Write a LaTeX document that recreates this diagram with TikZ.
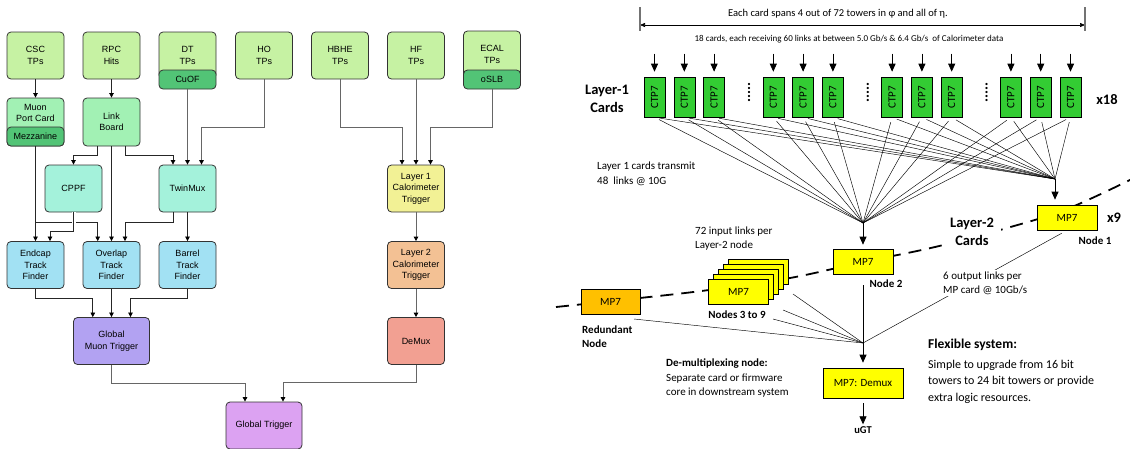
\documentclass[tikz,border=0pt]{standalone}
\usepackage{fontspec}
\setmainfont{Liberation Sans}
\newfontfamily\carlito{Carlito}
\usetikzlibrary{arrows.meta}

\definecolor{srcgreen}{HTML}{C6F2A3}
\definecolor{mintgreen}{HTML}{A2F1B4}
\definecolor{bandgreen}{HTML}{52C476}
\definecolor{aqua}{HTML}{A4F2DB}
\definecolor{skyblue}{HTML}{A2E1F3}
\definecolor{lavender}{HTML}{B2A2F2}
\definecolor{paleyellow}{HTML}{F2F195}
\definecolor{peach}{HTML}{F3C194}
\definecolor{salmon}{HTML}{F2A092}
\definecolor{lilac}{HTML}{DCA2F2}
\definecolor{boxline}{HTML}{333333}
\definecolor{ctpgreen}{HTML}{33CC33}
\definecolor{mpyellow}{HTML}{FFFF00}
\definecolor{mporange}{HTML}{FFC000}

\begin{document}
\begin{tikzpicture}[
x=1pt, y=-1pt,
font=\fontsize{9}{11.5}\selectfont,
block/.style={
rectangle,
rounded corners=4pt,
draw=boxline,
line width=0.8pt,
align=center,
minimum width=57pt,
minimum height=47pt,
inner sep=1pt
},
band/.style={block, fill=bandgreen, minimum height=19pt},
wire/.style={draw=black!85, line width=0.7pt, -{Triangle[length=4.5pt,width=4.5pt,color=black]}},
calowire/.style={wire, draw=black!60, line width=1pt},
ctp/.style={rectangle, draw=black, line width=0.6pt, fill=ctpgreen,
  minimum width=21pt, minimum height=40pt, inner sep=0pt,
  font=\carlito\fontsize{11}{11}\selectfont},
mp/.style={rectangle, draw=black, line width=0.6pt, fill=mpyellow,
  minimum width=60pt, minimum height=25pt, inner sep=0pt,
  font=\carlito\fontsize{11}{11}\selectfont},
link/.style={draw=black, line width=0.45pt},
feed/.style={draw=black, line width=0.8pt, -{Triangle[length=8pt,width=7pt]}},
note/.style={font=\carlito\fontsize{11}{14}\selectfont, align=left, inner sep=0pt},
tag/.style={font=\carlito\bfseries\fontsize{11}{14}\selectfont, align=left, inner sep=0pt},
heading/.style={font=\carlito\bfseries\fontsize{14.5}{18.5}\selectfont, align=center, inner sep=1pt}
]
\useasboundingbox (0,0) rectangle (1130,448);

% ---------------- trigger chain (left) ----------------
\node[block, fill=srcgreen] (csc) at (35.5,55.5) {CSC\\TPs};
\node[block, fill=srcgreen] (rpc) at (111.5,55.5) {RPC\\Hits};
\node[block, fill=srcgreen] (dt) at (187.5,55.5) {DT\\TPs};
\node[band] (cuof) at (187.5,79.5) {CuOF};
\node[block, fill=srcgreen] (ho) at (264,55.5) {HO\\TPs};
\node[block, fill=srcgreen] (hbhe) at (340,55.5) {HBHE\\TPs};
\node[block, fill=srcgreen] (hf) at (416,55.5) {HF\\TPs};
\node[block, fill=srcgreen] (ecal) at (492,54.5) {ECAL\\TPs};
\node[band] (oslb) at (492,79.5) {oSLB};

\node[block, fill=mintgreen, minimum height=48pt] (mpc) at (35.5,122) {};
\node[band] (mezz) at (35.5,136.5) {Mezzanine};
\node[align=center, inner sep=0pt] (mpclabel) at (35.5,113) {Muon\\Port Card};
\node[block, fill=mintgreen, minimum height=48pt] (lb) at (111.5,122) {Link\\Board};

\node[block, fill=aqua] (cppf) at (73.5,188.5) {CPPF};
\node[block, fill=aqua] (twinmux) at (187.5,188.5) {TwinMux};
\node[block, fill=paleyellow] (l1) at (416,188.5) {Layer 1\\Calorimeter\\Trigger};

\node[block, fill=skyblue] (endcap) at (35.5,265) {Endcap\\Track\\Finder};
\node[block, fill=skyblue] (overlap) at (111.5,265) {Overlap\\Track\\Finder};
\node[block, fill=skyblue] (barrel) at (187.5,265) {Barrel\\Track\\Finder};
\node[block, fill=peach] (l2) at (416,265) {Layer 2\\Calorimeter\\Trigger};

\node[block, fill=lavender, minimum width=76pt] (gmt) at (111.5,341) {Global\\Muon Trigger};
\node[block, fill=salmon] (demux) at (416,341) {DeMux};

\node[block, fill=lilac, minimum width=76pt] (gt) at (264,425.5) {Global Trigger};

% muon side
\draw[wire] (csc.south) -- (mpc.north);
\draw[wire] (rpc.south) -- (lb.north);
\draw[wire] ([xshift=-14pt]lb.south) -- ++(0,9) -| (cppf.north);
\draw[wire] ([xshift=13.5pt]lb.south) -- ++(0,9) -| ([xshift=-14.5pt]twinmux.north);
\draw[wire] (lb.south) -- (overlap.north);
\draw[calowire] (cuof.south) -- (twinmux.north);
\draw[calowire] (ho.south) -- ++(0,48) -| ([xshift=14pt]twinmux.north);
\draw[wire] (mezz.south) -- (endcap.north);
\draw[wire] (mezz.south) -- ++(0,76) -| ([xshift=-13.8pt]overlap.north);
% jumps over the branch above
\draw[wire, preaction={draw=white, line width=4pt, -}] (cppf.south) -- ++(0,19) -| ([xshift=14.5pt]endcap.north);
\draw[wire] ([xshift=-14.5pt]twinmux.south) -- ++(0,10) -| ([xshift=13.5pt]overlap.north);
\draw[wire] (twinmux.south) -- (barrel.north);
\draw[wire] (endcap.south) -- ++(0,9) -| ([xshift=-18.7pt]gmt.north);
\draw[wire] (overlap.south) -- (gmt.north);
\draw[wire] (barrel.south) -- ++(0,9) -| ([xshift=19pt]gmt.north);

% calorimeter side
\draw[calowire] (hbhe.south) -- ++(0,48) -| ([xshift=-14pt]l1.north);
\draw[calowire] (hf.south) -- (l1.north);
\draw[calowire] (oslb.south) -- ++(0,38) -| ([xshift=14.5pt]l1.north);
\draw[calowire] (l1.south) -- (l2.north);
\draw[calowire] (l2.south) -- (demux.north);

% into the global trigger
\draw[calowire] (gmt.south) -- ++(0,19) -| ([xshift=-19pt]gt.north);
\draw[calowire] (demux.south) -- ++(0,18) -| ([xshift=19pt]gt.north);

% ---------------- calorimeter trigger layout (right) ----------------
% span of one card
\coordinate (spanL) at (640,25);
\coordinate (spanR) at (1085,25);
\draw[line width=0.6pt, {Triangle[length=5pt,width=4pt]}-{Triangle[length=5pt,width=4pt]}] (spanL) -- (spanR);
\draw[line width=1.2pt, black!55] ([yshift=18pt]spanL) -- ([yshift=-6pt]spanL);
\draw[line width=1.2pt, black!55] ([yshift=18pt]spanR) -- ([yshift=-6pt]spanR);
\node[note, font=\carlito\fontsize{10.5}{12}\selectfont] (spantext) at (838,14)
{Each card spans 4 out of 72 towers in φ and all of η.};
\node[note, font=\carlito\fontsize{9}{11}\selectfont] (linkstext) at (849,39)
{18 cards, each receiving 60 links at between 5.0 Gb/s \& 6.4 Gb/s\ \ of Calorimeter data};

% layer boundary, drawn under the cards
\draw[line width=1.8pt, dash pattern=on 13pt off 8pt]
  plot[smooth, tension=0.6] coordinates {(556,307) (640,298) (709,290) (790,278) (863,262) (935,247) (1007,228) (1067,209) (1132,179)};

% layer-1 cards
\foreach \g in {0,...,3}
  \foreach \i in {0,1,2} {
    \pgfmathtruncatemacro{\n}{3*\g+\i+1}
    \node[ctp] (c\n) at (654.5+118.8*\g+29.8*\i, 97) {\rotatebox{90}{CTP7}};
  }
\foreach \g [count=\k] in {0,1,2}
  \node[inner sep=0pt, font=\carlito\bfseries\fontsize{15}{15}\selectfont] (dots\k) at (749+118.8*\g, 92) {\rotatebox{90}{.....}};

\foreach \n in {1,...,12}
  \draw[feed, shorten >=5pt] ([yshift=23pt]c\n.north) -- (c\n.north);

% time-multiplexed fan-out
\coordinate (fanA) at (863,223);
\coordinate (fanB) at (1055,179);
\coordinate (fanC) at (863,343);
\foreach \n in {1,...,12} {
  \draw[link, shorten <=5pt] (c\n.south) -- (fanA);
  \draw[link, shorten <=5pt] (c\n.south) -- (fanB);
}

% layer-2 cards
\node[mp] (node1) at (1067,217.5) {MP7};
\node[mp] (node2) at (863,261.5) {MP7};
\foreach \k in {4,3,2,1}
  \node[mp] (stack\k) at (738.5+5*\k, 291.5-5*\k) {};
\node[mp] (nodes39) at (738.5,291.5) {MP7};
\node[mp, fill=mporange, minimum width=59pt] (spare) at (610.5,301.5) {MP7};
\node[mp, minimum width=80pt, minimum height=30pt] (demuxcard) at (863,383) {MP7: Demux};

\draw[feed, shorten >=4pt] (fanA) -- (fanA |- node2.north);
\draw[feed, shorten >=5pt] (fanB) -- (fanB |- node1.north);

% outputs to the demux
\coordinate (st1) at (793,294);
\coordinate (st2) at (783,310);
\coordinate (st3) at (773,319);
\coordinate (sp) at (634,319);
\draw[link, shorten <=11pt] (node2.south) -- (fanC);
\foreach \p in {st1,st2,st3,sp}
  \draw[link] (\p) -- (fanC);
\draw[link, shorten <=6pt] (node1.south) -- (fanC);
\draw[feed, shorten >=5pt] (fanC) -- (fanC |- demuxcard.north);
\node[tag, font=\carlito\bfseries\fontsize{10.5}{12}\selectfont] (ugt) at (863,430) {uGT};
\draw[feed, shorten <=5pt, shorten >=2pt] (demuxcard.south) -- (ugt.north);

% labels
\node[note, fill=white, inner sep=2pt, anchor=west] (outlinks) at (941,283) {6 output links per\\MP card @ 10Gb/s};
\node[heading, fill=white, inner xsep=7pt] (l2cards) at (972,232) {Layer-2\\Cards};
\node[heading] (l1cards) at (607,99) {Layer-1\\Cards};
\node[heading] (x18) at (1107,100) {x18};
\node[heading] (x9) at (1114,218) {x9};
\node[tag] (n1tag) at (1095,241) {Node 1};
\node[tag] (n2tag) at (886,284) {Node 2};
\node[tag] (n39tag) at (737,315) {Nodes 3 to 9};
\node[tag, anchor=west] (sparetag) at (582,337) {Redundant\\Node};
\node[note, font=\carlito\fontsize{11}{15}\selectfont, anchor=west] (l1tx) at (597,173.5) {Layer 1 cards transmit\\48\ \ links @ 10G};
\node[note, font=\carlito\fontsize{11}{13.5}\selectfont, anchor=west] (l2rx) at (695,238.5) {72 input links per\\Layer-2 node};
\node[note, font=\carlito\fontsize{11}{14.5}\selectfont, anchor=west] (demuxnote) at (666,378.5)
{\textbf{De-multiplexing node:}\\Separate card or firmware\\core in downstream system};
\node[note, font=\carlito\bfseries\fontsize{13.5}{16}\selectfont, anchor=west] (flexhead) at (928,345) {Flexible system:};
\node[note, font=\carlito\fontsize{12}{16.5}\selectfont, anchor=west] (flexnote) at (928,381.5)
{Simple to upgrade from 16 bit\\towers to 24 bit towers or provide\\extra logic resources.};

\end{tikzpicture}
\end{document}
